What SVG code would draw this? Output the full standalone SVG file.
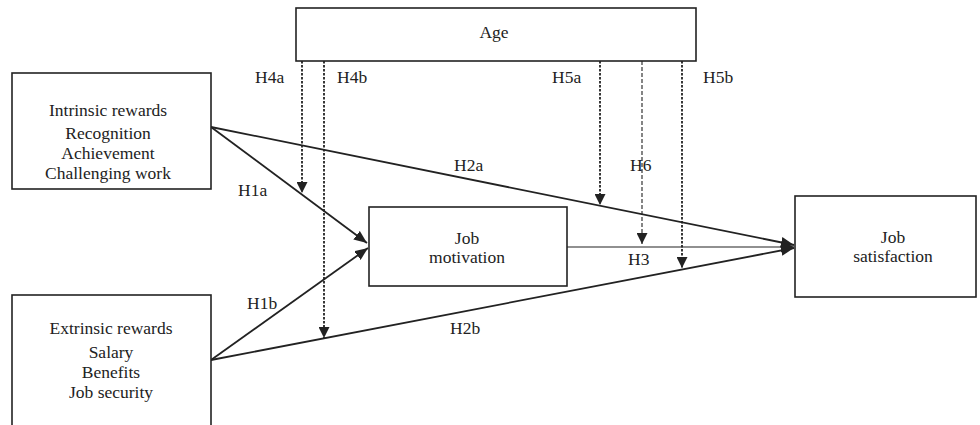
<svg xmlns="http://www.w3.org/2000/svg" width="980" height="425" viewBox="0 0 980 425" font-family="'Liberation Serif', 'DejaVu Serif', serif">
<style>
  text { font-family: 'Liberation Serif', 'Times New Roman', 'DejaVu Serif', serif; font-size: 17.5px; fill: #222; }
  .c { text-anchor: middle; }
  .box { fill: #fff; stroke: #222; stroke-width: 1.6; }
  .arr { fill: none; stroke: #222; stroke-width: 1.8; marker-end: url(#ah); }
  .thin { fill: none; stroke: #222; stroke-width: 1.1; marker-end: url(#ah); }
  .dash { fill: none; stroke: #222; stroke-width: 1.8; stroke-dasharray: 2.5 1.5; marker-end: url(#dh); }
  .dash2 { fill: none; stroke: #222; stroke-width: 1.1; stroke-dasharray: 4 2; marker-end: url(#dh); }
</style>
<defs>
  <marker id="ah" viewBox="0 0 12 10" refX="12" refY="5" markerWidth="13" markerHeight="11" markerUnits="userSpaceOnUse" orient="auto">
    <path d="M0,0 L12,5 L0,10 z" fill="#222"/>
  </marker>
  <marker id="dh" viewBox="0 0 11 11" refX="11" refY="5.5" markerWidth="11" markerHeight="11" markerUnits="userSpaceOnUse" orient="auto">
    <path d="M0,0 L11,5.5 L0,11 z" fill="#222"/>
  </marker>
</defs>
<rect width="980" height="425" fill="#fff"/>

<g id="connectors">
  <line class="arr" x1="211" y1="127" x2="367" y2="243"/>
  <line class="arr" x1="211" y1="360" x2="368" y2="248"/>
  <line class="arr" x1="211" y1="127" x2="794" y2="245"/>
  <line class="arr" x1="211" y1="360" x2="794" y2="248"/>
  <line class="thin" x1="567" y1="247" x2="794" y2="247"/>
  <line class="dash" x1="302" y1="61" x2="302" y2="193"/>
  <line class="dash" x1="324" y1="61" x2="324" y2="338"/>
  <line class="dash" x1="600" y1="61" x2="600" y2="205"/>
  <line class="dash2" x1="642" y1="61" x2="642" y2="244"/>
  <line class="dash" x1="682" y1="61" x2="682" y2="268"/>
  <text x="255" y="83">H4a</text>
  <text x="337" y="83">H4b</text>
  <text x="552" y="83">H5a</text>
  <text x="703" y="83">H5b</text>
  <text x="454" y="171">H2a</text>
  <text x="238" y="196">H1a</text>
  <text x="630" y="171">H6</text>
  <text x="628" y="265">H3</text>
  <text x="247" y="309">H1b</text>
  <text x="450" y="334">H2b</text>
</g>

<g id="age">
  <rect class="box" x="296" y="8" width="400" height="53"/>
  <text class="c" x="494" y="38">Age</text>
</g>

<g id="intrinsic">
  <rect class="box" x="12" y="73" width="199" height="116"/>
  <text class="c" x="108" y="116">Intrinsic rewards</text>
  <text class="c" x="108" y="139">Recognition</text>
  <text class="c" x="108" y="159">Achievement</text>
  <text class="c" x="108" y="179">Challenging work</text>
</g>

<g id="extrinsic">
  <rect class="box" x="12" y="295" width="199" height="150"/>
  <text class="c" x="111" y="334">Extrinsic rewards</text>
  <text class="c" x="111" y="358">Salary</text>
  <text class="c" x="111" y="378">Benefits</text>
  <text class="c" x="111" y="398">Job security</text>
</g>

<g id="motivation">
  <rect class="box" x="369" y="207" width="198" height="79"/>
  <text class="c" x="467" y="244">Job</text>
  <text class="c" x="467" y="263">motivation</text>
</g>

<g id="satisfaction">
  <rect class="box" x="795" y="196" width="181" height="101"/>
  <text class="c" x="893" y="243">Job</text>
  <text class="c" x="893" y="262">satisfaction</text>
</g>
</svg>
